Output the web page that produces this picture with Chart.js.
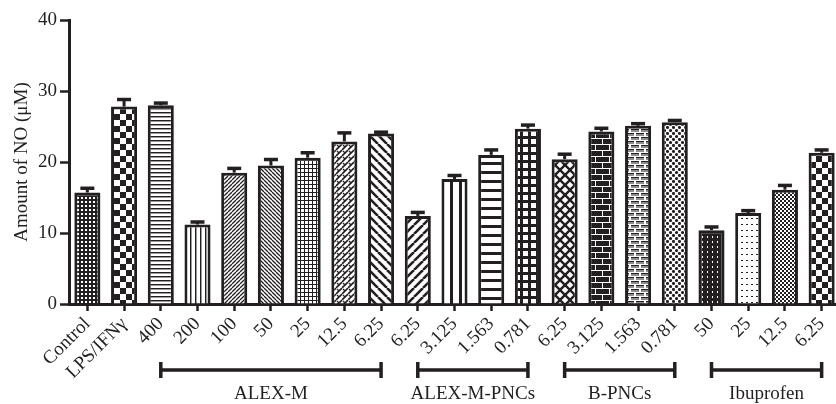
<!DOCTYPE html>
<html>
<head>
<meta charset="utf-8">
<script src="https://cdn.jsdelivr.net/npm/chart.js@4.4.1/dist/chart.umd.min.js"></script>
<style>
  html, body { margin: 0; padding: 0; background: #fff; overflow: hidden; }
  #wrap { width: 836px; height: 404px; overflow: hidden; position: relative; }
  #wrap canvas { position: absolute; left: 0; top: 0; }
</style>
</head>
<body>
<div id="wrap"><canvas id="chart" width="840" height="404"></canvas></div>
<script>
// Treatments / concentrations on the x axis
const categories = ['Control', 'LPS/IFNγ',
  '400', '200', '100', '50', '25', '12.5', '6.25',
  '6.25', '3.125', '1.563', '0.781',
  '6.25', '3.125', '1.563', '0.781',
  '50', '25', '12.5', '6.25'];

// Mean NO concentration (µM) and its SEM
const noValues = [15.7, 27.8,
  28.0, 11.2, 18.5, 19.5, 20.6, 22.9, 24.0,
  12.4, 17.6, 21.0, 24.7,
  20.4, 24.3, 25.1, 25.6,
  10.4, 12.8, 16.1, 21.3];
const noErrors = [0.6, 1.0,
  0.3, 0.35, 0.6, 0.85, 0.7, 1.2, 0.2,
  0.5, 0.5, 0.7, 0.5,
  0.7, 0.45, 0.3, 0.25,
  0.45, 0.35, 0.6, 0.4];

// Sample groups drawn as brackets under the axis (category index ranges)
const groupNames = ['ALEX-M', 'ALEX-M-PNCs', 'B-PNCs', 'Ibuprofen'];
const groupStart = [2, 9, 13, 17];
const groupEnd = [8, 12, 16, 20];

const yTicks = [0, 10, 20, 30, 40];

const INK = '#231f20';
const FONT = "'Liberation Serif', 'Times New Roman', serif";

// ---- hatch fills ----
function tile(w, h, draw, bg) {
  const c = document.createElement('canvas');
  c.width = w; c.height = h;
  const g = c.getContext('2d');
  g.fillStyle = bg || '#fff';
  g.fillRect(0, 0, w, h);
  g.fillStyle = INK; g.strokeStyle = INK;
  draw(g, w, h);
  return g.createPattern(c, 'repeat');
}
function diag(g, w, h, lw, dir) {
  g.lineWidth = lw;
  g.beginPath();
  for (let k = -1; k <= 1; k++) {
    if (dir > 0) { g.moveTo(k * w, h); g.lineTo(k * w + w, 0); }
    else { g.moveTo(k * w, 0); g.lineTo(k * w + w, h); }
  }
  g.stroke();
}
function dots(g, pts, r, w, h) {
  pts.forEach(([x, y]) => {
    for (let dx = -w; dx <= w; dx += w) for (let dy = -h; dy <= h; dy += h) {
      g.beginPath(); g.arc(x + dx, y + dy, r, 0, Math.PI * 2); g.fill();
    }
  });
}

const fills = [
  tile(4, 4, g => { g.fillStyle = '#fff'; g.fillRect(1, 1, 2, 2); }, INK),
  tile(12, 12, g => { g.fillRect(0, 0, 6, 6); g.fillRect(6, 6, 6, 6); }),
  tile(4, 4, g => { g.fillRect(0, 0, 4, 1); g.fillStyle = '#9a9a9a'; g.fillRect(0, 1, 4, 1); }),
  tile(5, 4, g => { g.fillRect(0, 0, 1, 4); g.fillStyle = '#9a9a9a'; g.fillRect(1, 0, 1, 4); }),
  tile(4, 4, g => diag(g, 4, 4, 1.3, 1)),
  tile(4, 4, g => diag(g, 4, 4, 1.3, -1)),
  tile(4, 4, g => { g.fillRect(0, 0, 4, 1); g.fillRect(0, 0, 1, 4); }),
  tile(6, 6, g => { diag(g, 6, 6, 1.6, 1); g.lineWidth = 1.2; g.beginPath(); g.moveTo(1, 1); g.lineTo(3, 3); g.stroke(); }),
  tile(9, 9, g => diag(g, 9, 9, 2.6, -1)),
  tile(9, 9, g => diag(g, 9, 9, 2.6, 1)),
  tile(9, 9, g => g.fillRect(0, 0, 3, 9)),
  tile(9, 9, g => g.fillRect(0, 0, 9, 3)),
  tile(8, 8, g => { g.fillRect(0, 0, 8, 3); g.fillRect(0, 0, 3, 8); }),
  tile(10, 10, g => { diag(g, 10, 10, 2.4, 1); diag(g, 10, 10, 2.4, -1); }),
  tile(14, 12, g => {
    g.fillStyle = '#fff';
    g.fillRect(0, 0, 14, 1); g.fillRect(0, 6, 14, 1);
    g.fillRect(7, 0, 1, 6); g.fillRect(0, 6, 1, 6);
  }, INK),
  tile(10, 8, g => {
    g.fillStyle = '#8e8e8e';
    g.fillRect(1, 1, 8, 3); g.fillRect(0, 5, 4, 3); g.fillRect(6, 5, 4, 3);
    g.fillStyle = INK;
    g.fillRect(1, 1, 8, 1); g.fillRect(0, 5, 4, 1); g.fillRect(6, 5, 4, 1);
  }),
  tile(6, 6, g => dots(g, [[1.5, 1.5], [4.5, 4.5]], 1.55, 6, 6)),
  tile(5, 5, g => { g.fillStyle = '#fff'; g.fillRect(2, 1, 1, 2); }, INK),
  tile(5, 6, g => { g.fillRect(1, 2, 2, 1); }),
  tile(4, 4, g => { g.fillRect(0, 0, 2, 2); g.fillRect(2, 2, 2, 2); }),
  tile(12, 12, g => { g.fillRect(0, 0, 6, 6); g.fillRect(6, 6, 6, 6); })
];

// ---- error bars (upper half only) ----
const errorBars = {
  id: 'errorBars',
  afterDatasetsDraw(chart) {
    const { ctx, scales: { y } } = chart;
    const meta = chart.getDatasetMeta(0);
    ctx.save();
    ctx.strokeStyle = INK;
    meta.data.forEach((bar, i) => {
      const top = y.getPixelForValue(noValues[i]);
      const yE = y.getPixelForValue(noValues[i] + noErrors[i]);
      ctx.lineWidth = 3;
      ctx.beginPath(); ctx.moveTo(bar.x, top); ctx.lineTo(bar.x, yE); ctx.stroke();
      ctx.lineWidth = 3.5;
      ctx.beginPath(); ctx.moveTo(bar.x - 7, yE); ctx.lineTo(bar.x + 7, yE); ctx.stroke();
    });
    ctx.restore();
  }
};

// ---- group brackets under the category labels ----
const groupBrackets = {
  id: 'groupBrackets',
  afterDraw(chart) {
    const { ctx, scales: { x } } = chart;
    const yLine = 370, cap = 8;
    ctx.save();
    ctx.strokeStyle = INK; ctx.fillStyle = INK;
    ctx.lineWidth = 3.5;
    groupNames.forEach((name, k) => {
      const x0 = x.getPixelForValue(groupStart[k]);
      const x1 = x.getPixelForValue(groupEnd[k]);
      ctx.beginPath();
      ctx.moveTo(x0, yLine); ctx.lineTo(x1, yLine);
      ctx.moveTo(x0, yLine - cap); ctx.lineTo(x0, yLine + cap);
      ctx.moveTo(x1, yLine - cap); ctx.lineTo(x1, yLine + cap);
      ctx.stroke();
      ctx.font = '19px ' + FONT;
      ctx.textAlign = 'center'; ctx.textBaseline = 'middle';
      ctx.fillText(name, (x0 + x1) / 2, 394);
    });
    ctx.restore();
  }
};

new Chart(document.getElementById('chart'), {
  type: 'bar',
  data: {
    labels: categories,
    datasets: [{
      data: noValues,
      backgroundColor: fills,
      borderColor: INK,
      borderWidth: 3,
      categoryPercentage: 1,
      barPercentage: 0.71
    }]
  },
  options: {
    responsive: false,
    animation: false,
    layout: { padding: { top: 20, left: 0, right: 0, bottom: 0 } },
    plugins: { legend: { display: false }, tooltip: { enabled: false } },
    scales: {
      x: {
        grid: { display: true, drawOnChartArea: false, offset: false, tickLength: 7, tickWidth: 2.5, tickColor: INK },
        border: { display: true, width: 3, color: INK },
        ticks: { color: INK, font: { family: FONT, size: 19 }, minRotation: 45, maxRotation: 45, padding: 2, autoSkip: false },
        afterFit(s) { s.height = 100; s.paddingLeft = 0; s.paddingRight = 0; }
      },
      y: {
        min: 0, max: 40,
        afterBuildTicks(s) { s.ticks = yTicks.map(v => ({ value: v })); },
        ticks: { color: INK, font: { family: FONT, size: 19 }, padding: 3 },
        grid: { display: true, drawOnChartArea: false, tickLength: 9, tickWidth: 2.5, tickColor: INK },
        border: { display: true, width: 3, color: INK },
        title: { display: true, text: 'Amount of NO (μM)', color: INK, font: { family: FONT, size: 19 }, padding: { top: 11, bottom: 0 } },
        afterFit(s) { s.width = 69; s.paddingTop = 0; s.paddingBottom = 0; }
      }
    }
  },
  plugins: [errorBars, groupBrackets]
});
</script>
</body>
</html>
